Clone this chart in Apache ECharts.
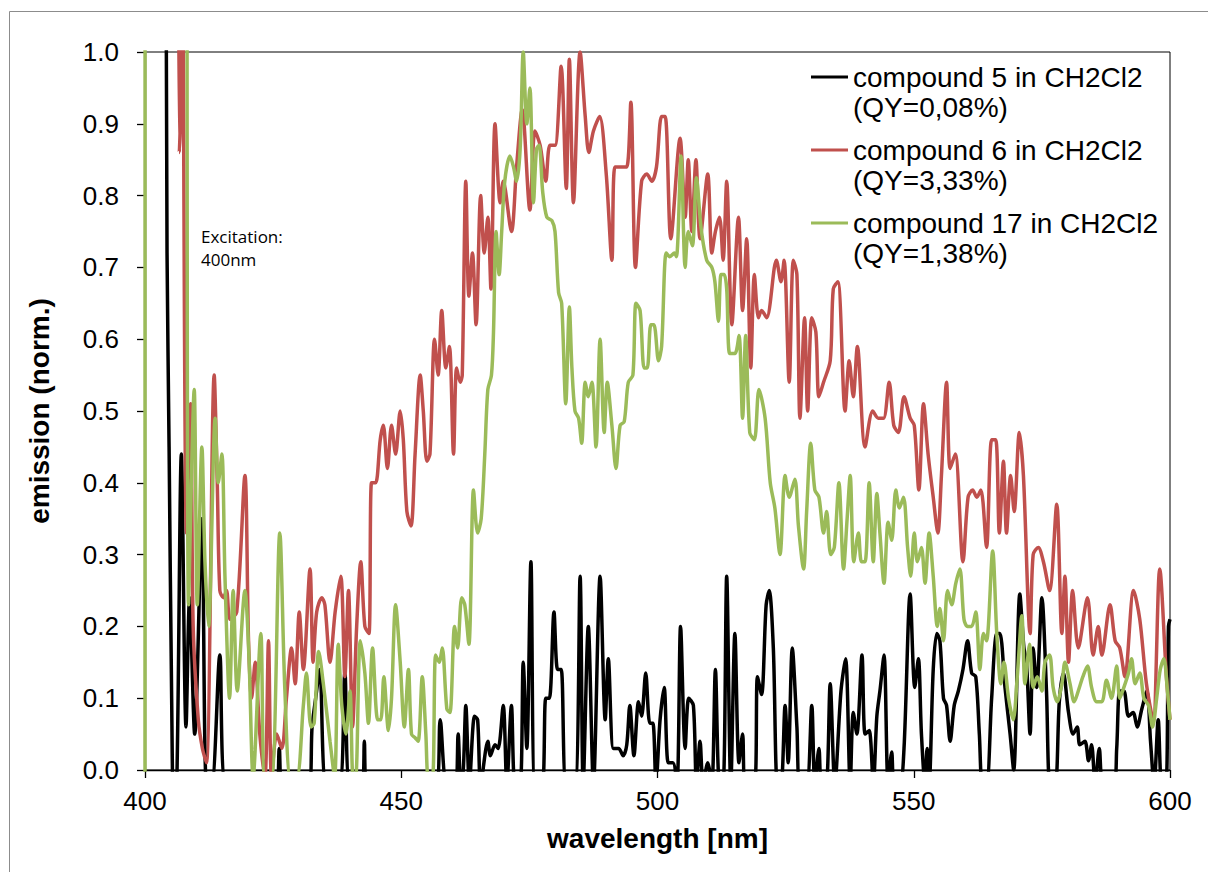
<!DOCTYPE html>
<html>
<head>
<meta charset="utf-8">
<script src="https://cdn.jsdelivr.net/npm/echarts@6/dist/echarts.min.js"></script>
<style>
html,body{margin:0;padding:0;background:#fff;}
#chart{width:1208px;height:872px;}
</style>
</head>
<body>
<div id="chart"></div>
<script>
// ---- data (wavelength in nm, normalized emission) ----
const seriesNames = [
  'compound 5 in CH2Cl2\n(QY=0,08%)',
  'compound 6 in CH2Cl2\n(QY=3,33%)',
  'compound 17 in CH2Cl2\n(QY=1,38%)'
];
const seriesColors = ['#000000', '#C0504D', '#9BBB59'];
const xTicks = [400, 450, 500, 550, 600];
const yTicks = [0, 0.1, 0.2, 0.3, 0.4, 0.5, 0.6, 0.7, 0.8, 0.9, 1.0];

const wlC5 = [400,403.9,404.3,404.7,405.2,405.6,406.2,407.1,408.0,408.7,409.7,411.1,412.0,413.0,414.6,415.8,425.6,426.2,426.8,432.0,432.6,433.3,434.1,435.4,437.9,439.0,440.0,442.4,442.8,443.2,456.8,457.6,458.9,460.5,461.1,461.6,462.1,462.6,463.3,464.3,464.9,465.5,466.9,467.4,468.3,468.9,469.9,470.6,471.5,472.2,473.2,473.8,474.5,475.3,476.1,477.5,478.2,478.9,479.8,480.5,481.2,482.2,483.9,484.9,485.5,486.5,487.5,488.8,489.8,490.4,491.4,492.4,493.3,494.0,494.6,495.4,496.3,496.9,497.7,498.5,499.1,499.7,500.5,501.3,502.1,503.0,503.8,504.5,505.4,506.1,507.0,507.6,508.3,508.9,509.8,510.6,511.3,512.1,512.8,513.5,514.3,515.1,515.9,516.6,517.2,518.9,519.5,520.3,521.2,521.8,522.6,523.4,524.1,524.9,525.5,526.3,527.2,527.8,529.1,530.1,530.7,531.5,532.0,532.9,533.7,534.6,535.8,536.7,537.6,538.2,538.9,539.9,540.5,541.3,542.1,542.8,543.4,544.2,545.0,545.7,546.2,547.3,548.1,549.3,550.2,550.9,551.5,552.2,552.6,553.0,553.8,554.5,555.1,555.8,556.4,557.1,557.9,558.7,559.6,560.5,561.3,562.1,562.8,563.4,564.2,565.2,566.2,566.8,567.8,568.8,569.5,570.7,571.5,572.0,572.7,573.3,574.0,575.0,575.9,576.6,577.6,578.4,579.2,580.2,581.1,581.9,582.4,583.4,584.1,584.7,585.4,586.2,587.0,589.0,589.6,590.2,591.0,591.9,592.8,593.6,594.5,595.5,596.2,596.9,597.7,598.4,599.2,599.7,600];
const valC5 = [3.0,1.3,0.72,0.45,0.1,-0.05,-0.02,0.44,0.06,0.24,0.05,0.35,-0.02,-0.02,0.16,-0.02,-0.02,0.03,-0.02,-0.02,0.06,0.10,0.14,-0.02,-0.02,0.135,-0.02,-0.02,0.04,-0.02,-0.02,0.07,-0.02,-0.02,0.05,-0.02,0.0,0.09,-0.02,0.075,0.07,-0.02,0.04,0.02,0.035,0.03,0.09,-0.02,0.09,-0.02,-0.02,0.15,0.03,0.29,-0.02,-0.02,0.10,0.10,0.22,0.14,0.14,-0.02,-0.02,0.27,-0.02,0.20,-0.02,0.27,0.07,0.155,0.03,0.03,0.02,0.035,0.09,0.02,0.095,0.075,0.135,0.065,0.065,-0.02,0.07,0.115,0.01,0.01,-0.02,0.20,0.03,0.10,0.09,-0.02,0.04,-0.02,0.01,-0.02,0.14,-0.02,-0.02,0.27,-0.02,0.19,0.01,0.05,-0.02,-0.02,0.13,0.105,0.23,0.25,0.17,-0.02,-0.02,0.09,0.01,0.17,0.06,-0.02,-0.02,0.09,-0.02,0.03,-0.02,-0.02,0.12,-0.02,0.11,0.155,-0.02,0.08,0.05,0.16,0.05,0.055,-0.02,0.075,0.11,0.16,-0.02,0.025,-0.02,-0.02,0.03,0.245,0.115,0.155,0.05,-0.02,0.03,-0.02,0.14,0.19,0.18,0.10,0.09,0.04,0.09,0.11,0.14,0.18,0.135,0.13,0.05,-0.02,-0.02,0.10,0.19,0.19,0.115,0.05,0.0,0.245,0.17,0.15,0.05,0.17,0.115,0.24,0.11,-0.02,-0.02,0.095,0.135,0.08,0.05,0.06,0.035,0.04,0.013,0.035,-0.02,0.03,-0.02,-0.02,0.03,0.11,0.11,0.075,0.08,0.06,0.085,0.11,0.04,-0.02,0.07,-0.02,-0.02,0.20,0.21];

const wlC6 = [406.3,406.7,406.95,407.2,408.1,408.9,409.4,410.4,411.2,412.0,413.5,414.1,414.6,415.3,415.9,416.6,417.9,419.5,420.2,420.8,421.5,422.4,423.4,424.1,424.7,425.7,426.7,427.6,428.6,429.3,430.1,430.9,432.2,432.8,433.5,434.5,435.1,436.1,437.1,438.2,439.0,439.7,440.5,441.3,442.1,442.9,443.7,444.2,445.0,445.9,446.5,447.3,448.1,448.9,449.8,450.4,451.1,451.9,452.7,453.7,454.3,455.0,455.6,456.5,457.2,457.9,458.7,459.4,460.2,460.8,461.5,461.9,462.6,463.2,463.9,464.6,465.5,466.2,466.9,467.5,468.3,469.3,469.9,471.5,472.5,473.6,475.1,476.1,477.1,478.2,479.0,480.0,481.2,482.2,482.8,483.6,484.9,485.9,486.6,487.5,488.7,490.0,491.1,491.7,493.0,494.0,494.8,495.7,496.9,497.9,498.9,499.8,500.8,501.5,502.6,504.4,505.4,506.0,506.7,507.5,508.3,509.8,510.6,511.3,512.1,512.8,513.5,514.5,515.8,516.6,517.4,518.2,518.9,519.7,520.3,521.3,523.2,524.1,524.7,525.7,526.5,527.2,527.8,528.7,529.3,530.1,530.9,531.5,532.4,533.7,534.3,535.2,536.6,537.4,538.2,539.0,540.5,542.0,543.1,544.1,545.2,546.1,547.0,548.1,549.3,550.1,551.0,551.9,552.8,553.8,554.7,555.4,556.4,557.1,558.1,559.6,560.6,561.5,562.3,563.1,564.2,565.2,566.0,566.7,567.5,568.1,568.9,569.6,570.6,571.4,572.7,573.3,574.3,575.3,576.5,577.9,578.9,579.5,580.2,581.0,582.1,583.9,585.0,586.0,586.7,588.3,589.3,590.2,591.2,592.9,594.1,595.4,596.7,598.0,599.3,600];
const valC6 = [1.5,0.86,0.92,1.3,0.33,0.51,0.2,0.07,0.03,0.01,0.55,0.40,0.25,0.24,0.25,0.21,0.22,0.41,0.18,0.10,0.15,0.05,-0.01,0.18,-0.01,0.05,0.03,0.10,0.17,0.12,0.22,0.14,0.28,0.15,0.22,0.24,0.23,0.15,0.22,0.27,0.13,0.25,0.06,0.20,0.29,0.20,0.19,0.40,0.40,0.46,0.48,0.42,0.48,0.44,0.50,0.46,0.36,0.34,0.44,0.55,0.50,0.43,0.44,0.60,0.55,0.64,0.56,0.59,0.44,0.56,0.54,0.55,0.82,0.66,0.72,0.62,0.80,0.72,0.77,0.67,0.90,0.79,0.82,0.75,0.84,0.92,0.78,0.89,0.87,0.82,0.87,0.87,0.98,0.81,0.99,0.79,1.0,0.91,0.86,0.89,0.91,0.83,0.71,0.84,0.84,0.84,0.93,0.70,0.82,0.83,0.82,0.84,0.91,0.91,0.74,0.88,0.77,0.85,0.75,0.85,0.74,0.83,0.72,0.75,0.77,0.71,0.82,0.62,0.77,0.64,0.74,0.56,0.69,0.63,0.64,0.63,0.71,0.68,0.71,0.54,0.71,0.69,0.49,0.63,0.50,0.63,0.61,0.52,0.54,0.57,0.67,0.68,0.50,0.57,0.52,0.59,0.45,0.50,0.49,0.49,0.54,0.48,0.47,0.52,0.49,0.48,0.39,0.51,0.44,0.38,0.33,0.41,0.54,0.42,0.44,0.29,0.38,0.39,0.38,0.39,0.31,0.46,0.46,0.33,0.43,0.33,0.41,0.36,0.47,0.41,0.19,0.30,0.31,0.29,0.25,0.37,0.19,0.27,0.15,0.25,0.17,0.24,0.16,0.20,0.16,0.23,0.18,0.17,0.13,0.25,0.21,0.12,0.07,0.28,0.13,0.07];

const wlC17 = [400.0,400.15,407.5,408.5,409.6,410.2,411.1,411.7,412.4,413.7,414.3,415.0,415.6,416.5,417.2,418.0,419.5,420.3,421.1,422.6,423.4,424.7,426.3,427.3,428.4,429.6,430.9,431.5,432.4,433.0,433.9,434.8,436.1,437.0,437.7,438.4,439.2,440.0,440.6,441.1,442.0,442.9,443.6,444.4,445.4,446.0,446.6,447.5,448.1,448.9,449.8,450.6,451.4,452.0,452.7,453.3,454.1,454.8,455.3,456.1,456.7,457.4,458.0,458.9,459.5,460.4,461.0,461.8,462.4,463.2,464.1,464.9,465.6,466.3,466.9,467.6,468.0,468.5,469.1,469.6,470.2,471.2,471.9,472.5,473.2,473.8,474.5,475.1,475.8,476.4,476.9,477.6,478.4,479.4,480.0,480.7,481.3,482.1,482.8,483.3,483.9,484.6,485.2,485.9,486.5,487.2,488.0,488.8,489.6,490.2,491.1,491.9,492.7,493.5,494.3,495.2,495.8,496.6,497.4,498.0,498.7,499.3,500.2,500.8,501.7,502.4,503.3,503.7,504.6,505.4,506.0,506.8,507.6,508.5,509.6,510.6,511.2,511.9,512.4,513.0,513.5,514.1,515.1,515.9,516.6,517.2,518.0,518.9,519.8,521.0,522.0,522.9,523.9,524.9,525.7,526.8,527.5,528.5,529.1,529.9,530.7,531.5,532.4,533.0,533.8,534.5,535.4,536.3,537.0,537.6,538.3,539.2,539.8,540.5,541.3,542.1,542.8,543.4,544.2,545.0,545.7,546.5,547.2,548.0,548.8,549.4,550.1,550.7,551.5,552.2,553.0,553.8,554.6,555.1,555.8,556.6,557.4,558.2,559.0,559.8,560.5,561.3,562.1,562.9,563.6,564.2,565.4,566.2,567.0,567.6,568.5,569.4,570.2,571.1,571.7,572.6,573.3,574.1,575.0,575.6,576.5,577.2,578.0,578.9,579.5,580.5,581.3,582.1,583.0,583.9,584.7,585.7,586.7,587.6,588.6,589.6,590.2,591.0,591.9,592.5,593.2,594.1,594.9,595.8,596.6,597.4,598.1,598.8,599.5,600.0];
const valC17 = [-0.1,3.0,3.0,0.23,0.53,0.23,0.45,0.29,0.20,0.49,0.40,0.44,0.27,0.10,0.25,0.11,0.25,0.155,-0.01,0.19,-0.01,-0.01,0.33,0.11,-0.01,-0.01,0.09,0.135,0.06,0.065,0.165,0.12,0.04,-0.01,0.175,0.09,0.05,0.11,-0.01,-0.01,0.18,0.135,0.065,0.17,0.07,0.07,0.13,0.055,0.10,0.23,0.15,0.06,0.14,0.05,0.045,0.04,0.13,0.05,-0.01,-0.01,0.16,0.15,0.17,0.085,0.08,0.20,0.17,0.24,0.23,0.175,0.39,0.33,0.35,0.44,0.53,0.55,0.61,0.75,0.69,0.75,0.82,0.855,0.84,0.82,0.865,1.0,0.90,0.95,0.79,0.865,0.87,0.805,0.77,0.765,0.75,0.665,0.65,0.51,0.645,0.56,0.50,0.49,0.455,0.54,0.52,0.54,0.45,0.60,0.47,0.54,0.48,0.42,0.48,0.485,0.54,0.55,0.65,0.64,0.56,0.56,0.62,0.62,0.57,0.59,0.72,0.715,0.72,0.715,0.855,0.70,0.75,0.73,0.825,0.755,0.71,0.70,0.68,0.625,0.69,0.69,0.67,0.58,0.58,0.605,0.49,0.605,0.47,0.46,0.53,0.49,0.40,0.365,0.30,0.41,0.38,0.405,0.34,0.28,0.36,0.455,0.39,0.38,0.33,0.36,0.30,0.31,0.40,0.28,0.35,0.41,0.29,0.33,0.29,0.29,0.40,0.29,0.385,0.33,0.26,0.345,0.32,0.39,0.365,0.38,0.31,0.27,0.33,0.29,0.31,0.26,0.33,0.27,0.20,0.225,0.18,0.25,0.23,0.26,0.28,0.21,0.20,0.20,0.22,0.14,0.19,0.18,0.305,0.19,0.12,0.15,0.10,0.07,0.13,0.215,0.12,0.175,0.115,0.13,0.11,0.15,0.16,0.115,0.095,0.12,0.15,0.12,0.095,0.11,0.13,0.145,0.115,0.095,0.095,0.125,0.10,0.145,0.10,0.115,0.135,0.155,0.12,0.135,0.10,0.09,0.06,0.10,0.14,0.155,0.11,0.07];

const excitationNote = 'Excitation:\n400nm';

// ---- build chart ----
function zip(xs, ys) { return xs.map((x, i) => [x, ys[i]]); }
const seriesData = [zip(wlC5, valC5), zip(wlC6, valC6), zip(wlC17, valC17)];

const chart = echarts.init(document.getElementById('chart'), null, { renderer: 'svg' });
const FONT = '"Liberation Sans", Arial, sans-serif';
const iconPath = 'path://M0,0H0.01V0.01H0Z M0,13.5H37V16.5H0Z M0,59.99H0.01V60H0Z';

chart.setOption({
  backgroundColor: '#ffffff',
  animation: false,
  grid: { left: 145, right: 38, top: 52, bottom: 102, show: true, borderColor: '#000', borderWidth: 1, backgroundColor: 'transparent' },
  xAxis: {
    type: 'value', min: xTicks[0], max: xTicks[xTicks.length - 1], interval: 50,
    name: 'wavelength [nm]', nameLocation: 'middle', nameGap: 54,
    nameTextStyle: { fontFamily: FONT, fontSize: 28, fontWeight: 'bold', color: '#000' },
    axisLine: { show: true, onZero: false, lineStyle: { color: '#000', width: 1.3 } },
    axisTick: { show: true, inside: false, length: 8, lineStyle: { color: '#000', width: 1.3 } },
    axisLabel: { margin: 18, fontFamily: FONT, fontSize: 26, color: '#000' },
    splitLine: { show: false }
  },
  yAxis: {
    type: 'value', min: 0, max: 1, interval: 0.1,
    name: 'emission (norm.)', nameLocation: 'middle', nameGap: 92, nameRotate: 90,
    nameTextStyle: { fontFamily: FONT, fontSize: 28, fontWeight: 'bold', color: '#000' },
    axisLine: { show: true, onZero: false, lineStyle: { color: '#000', width: 1.3 } },
    axisTick: { show: true, inside: false, length: 8, lineStyle: { color: '#000', width: 1.3 } },
    axisLabel: { margin: 26, fontFamily: FONT, fontSize: 26, color: '#000', formatter: v => v.toFixed(1) },
    splitLine: { show: false }
  },
  legend: {
    orient: 'vertical', left: 806, top: 57, itemGap: 13,
    itemWidth: 37, itemHeight: 60, icon: iconPath, symbolKeepAspect: false,
    itemStyle: { borderWidth: 0 },
    selectedMode: false,
    textStyle: { fontFamily: FONT, fontSize: 28, color: '#000', lineHeight: 30 },
    data: seriesNames
  },
  graphic: [
    { type: 'rect', silent: true, shape: { x: 9.5, y: 11.5, width: 1400, height: 1200 }, style: { fill: 'none', stroke: '#8c8c8c', lineWidth: 1 } },
    { type: 'text', left: 201, top: 225, silent: true, style: { text: excitationNote, font: '17px "Open Sans", sans-serif', fill: '#000', lineHeight: 23 } }
  ],
  series: seriesData.map((d, i) => ({
    name: seriesNames[i], type: 'line', data: d, showSymbol: false, symbol: 'none',
    smooth: 0.3, clip: true,
    lineStyle: { color: seriesColors[i], width: 3.5 },
    itemStyle: { color: seriesColors[i] }
  }))
});
</script>
</body>
</html>
